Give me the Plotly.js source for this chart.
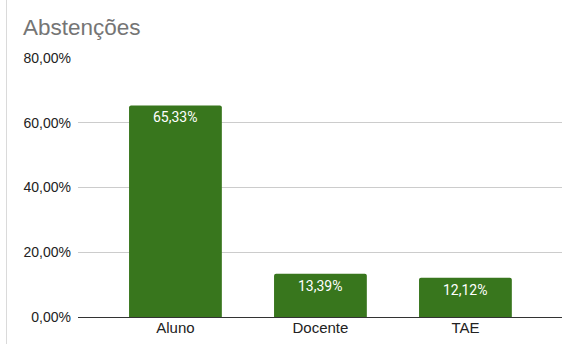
<!DOCTYPE html>
<html><head><meta charset="utf-8">
<script src="https://cdn.plot.ly/plotly-3.0.1.min.js"></script>
<style>
html,body{margin:0;padding:0;background:#fff;}
#wrap{position:relative;width:568px;height:344px;}
#chart{width:568px;height:344px;}
#edge{position:absolute;left:6px;top:0;width:1px;height:344px;background:#dadada;}
</style></head>
<body><div id="wrap"><div id="chart"></div><div id="edge"></div></div>
<script>
const categories = ["Aluno", "Docente", "TAE"];
const values = [65.33, 13.39, 12.12];
const tickValues = [0, 20, 40, 60, 80];

const fmt = v => v.toFixed(2).replace('.', ',') + '%';
const tickLabels = tickValues.map(fmt);

const trace = {
  type: 'bar', x: categories, y: values,
  marker: {color: '#38761d', cornerradius: 2},
  width: 0.64, hoverinfo: 'skip'
};

const annotations = categories.map((c, i) => ({
  x: c, y: values[i], xref: 'x', yref: 'y', text: fmt(values[i]),
  showarrow: false, yshift: -12,
  font: {family: 'Roboto, Arial', size: 14, color: '#ffffff'}
}));

const layout = {
  width: 568, height: 344,
  margin: {l: 78, r: 6, t: 58, b: 27, pad: 0},
  separators: ',.',
  paper_bgcolor: '#fff', plot_bgcolor: '#fff',
  font: {family: 'Liberation Sans, Arial', size: 14, color: '#222'},
  title: {text: 'Abstenções', xref: 'container', x: 0, xanchor: 'left', yref: 'container', y: 0.921, yanchor: 'middle', pad: {l: 23},
    font: {family: 'Liberation Sans, Arial', size: 22.5, color: '#757575'}},
  xaxis: {type: 'category', range: [-0.672, 2.666], showgrid: false, zeroline: false, showline: false,
    ticks: '', ticklabelstandoff: 0, tickfont: {size: 15, color: '#222'}, fixedrange: true},
  yaxis: {range: [0, 80], tickmode: 'array', tickvals: tickValues, ticktext: tickLabels,
    showgrid: true, gridcolor: '#cccccc', gridwidth: 1, zeroline: true, zerolinecolor: '#333333', zerolinewidth: 1,
    ticks: '', ticklabelstandoff: 6, tickfont: {size: 14, color: '#222'}, automargin: false, fixedrange: true},
  annotations: annotations,
  showlegend: false
};
Plotly.newPlot('chart', [trace], layout, {displayModeBar: false, staticPlot: true});
</script></body></html>
